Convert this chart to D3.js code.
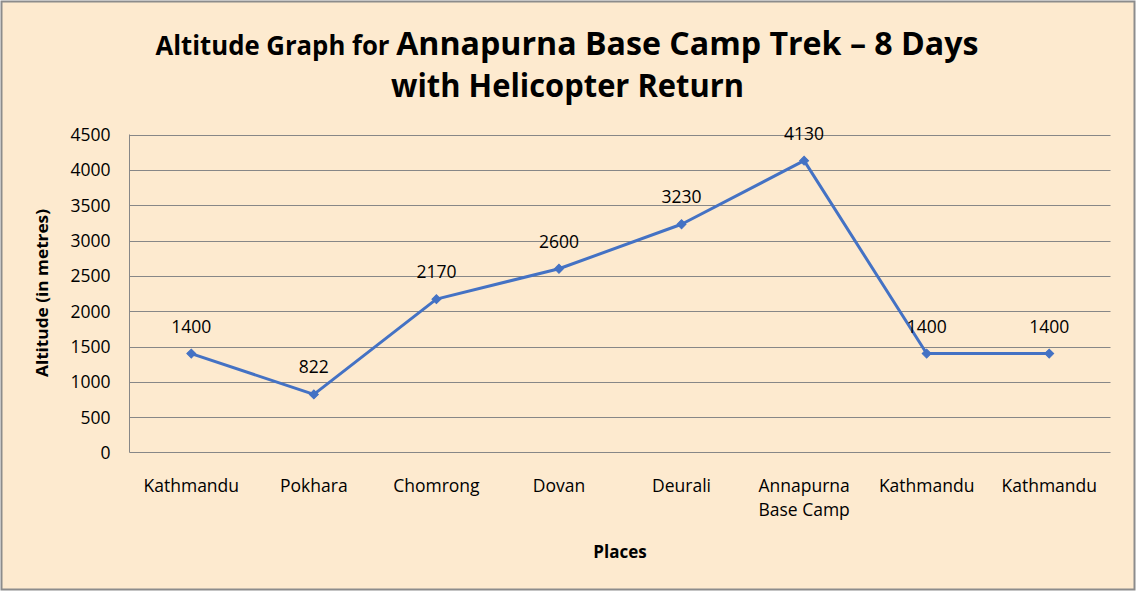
<!DOCTYPE html>
<html>
<head>
<meta charset="utf-8">
<script src="https://cdn.jsdelivr.net/npm/d3@7"></script>
<style>
  html, body { margin: 0; padding: 0; background: #fff; }
  svg { display: block; }
  text { font-family: "Open Sans", "Noto Sans", sans-serif; fill: #000; }
</style>
</head>
<body>
<svg id="chart" width="1136" height="592"></svg>
<script>
const categories = ["Kathmandu", "Pokhara", "Chomrong", "Dovan", "Deurali", "Annapurna\nBase Camp", "Kathmandu", "Kathmandu"];
const altitudes = [1400, 822, 2170, 2600, 3230, 4130, 1400, 1400];
const yTicks = [0, 500, 1000, 1500, 2000, 2500, 3000, 3500, 4000, 4500];

const W = 1136, H = 592;
const svg = d3.select("#chart");
const FS = 17.5;

// background + border
svg.append("rect").attr("x", 1.5).attr("y", 1.5).attr("width", W - 3).attr("height", H - 4)
  .attr("fill", "#FDEACF").attr("stroke", "#8c8c8c").attr("stroke-width", 2);

const x = d3.scaleBand().domain(d3.range(categories.length))
  .range([130, 1110.5]).paddingInner(0).paddingOuter(0);
const y = d3.scaleLinear().domain([0, 4500]).range([452.5, 134.5]);

// gridlines
svg.append("g").selectAll("line").data(yTicks.filter(d => d > 0)).join("line")
  .attr("x1", 130).attr("x2", 1110.5)
  .attr("y1", d => Math.round(y(d)) + 0.5).attr("y2", d => Math.round(y(d)) + 0.5)
  .attr("stroke", "#878787").attr("stroke-width", 1);

// axes lines
svg.append("line").attr("x1", 129.5).attr("x2", 129.5).attr("y1", 134.5).attr("y2", 452.5)
  .attr("stroke", "#878787");
svg.append("line").attr("x1", 129.5).attr("x2", 1110.5).attr("y1", 452.5).attr("y2", 452.5)
  .attr("stroke", "#878787");

// y tick labels via axis
const yAxis = d3.axisLeft(y).tickValues(yTicks).tickSize(0).tickPadding(19).tickFormat(d3.format("d"));
const gy = svg.append("g").attr("transform", "translate(129.5,0)").call(yAxis);
gy.select(".domain").remove();
gy.selectAll("text").attr("font-size", FS).attr("fill", "#000")
  .style("font-family", "'Open Sans', sans-serif").attr("dy", "0.35em");

// x tick labels
const xAxis = d3.axisBottom(x).tickSize(0).tickPadding(0).tickFormat(() => "");
const gx = svg.append("g").attr("transform", "translate(0,452.5)").call(xAxis);
gx.select(".domain").remove();
gx.selectAll(".tick").each(function(d) {
  const lines = categories[d].split("\n");
  const t = d3.select(this).append("text").attr("text-anchor", "middle")
    .attr("font-size", FS).attr("fill", "#000");
  lines.forEach((ln, i) => {
    t.append("tspan").attr("x", 0).attr("y", 39 + i * 24.5).text(ln);
  });
});

// line
const cx = i => x(i) + x.bandwidth() / 2;
svg.append("path").datum(altitudes)
  .attr("fill", "none").attr("stroke", "#4472C4").attr("stroke-width", 3)
  .attr("stroke-linejoin", "round")
  .attr("d", d3.line().x((d, i) => cx(i)).y(d => y(d)));

// markers (square rotated 45deg)
svg.append("g").selectAll("path").data(altitudes).join("path")
  .attr("transform", (d, i) => `translate(${cx(i)},${y(d)}) rotate(45)`)
  .attr("d", d3.symbol().type(d3.symbolSquare).size(40))
  .attr("fill", "#4472C4").attr("stroke", "#4472C4").attr("stroke-width", 1);

// data labels
svg.append("g").selectAll("text").data(altitudes).join("text")
  .attr("x", (d, i) => cx(i)).attr("y", d => y(d) - 21)
  .attr("text-anchor", "middle").attr("font-size", FS).text(d => d);

// title
const t1 = svg.append("text").attr("x", 567).attr("y", 55).attr("text-anchor", "middle")
  .attr("font-weight", "bold").attr("textLength", 823).attr("lengthAdjust", "spacingAndGlyphs");
t1.append("tspan").attr("font-size", 26).text("Altitude Graph for ");
t1.append("tspan").attr("font-size", 32.5).text("Annapurna Base Camp Trek \u2013 8 Days");
svg.append("text").attr("x", 567.5).attr("y", 97).attr("text-anchor", "middle")
  .attr("font-weight", "bold").attr("font-size", 32.5)
  .attr("textLength", 353).attr("lengthAdjust", "spacingAndGlyphs")
  .text("with Helicopter Return");

// axis titles
svg.append("text").attr("transform", "translate(48,293) rotate(-90)")
  .attr("text-anchor", "middle").attr("font-weight", "bold").attr("font-size", 16.5)
  .attr("textLength", 168).attr("lengthAdjust", "spacingAndGlyphs")
  .text("Altitude (in metres)");
svg.append("text").attr("x", 620).attr("y", 558).attr("text-anchor", "middle")
  .attr("font-weight", "bold").attr("font-size", 17)
  .text("Places");
</script>
</body>
</html>
